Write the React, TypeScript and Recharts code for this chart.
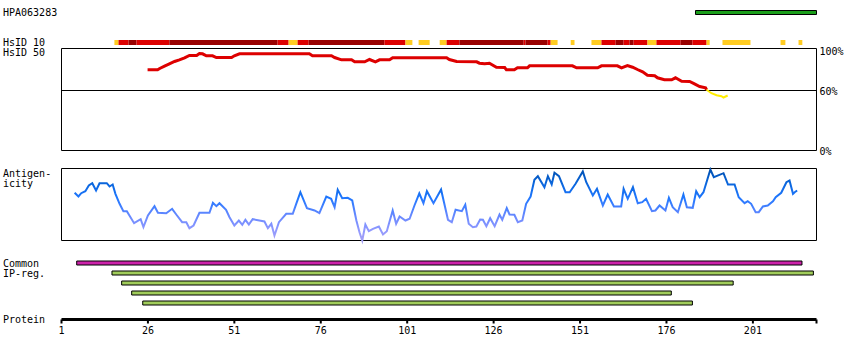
import React from "react";
import {
  LineChart,
  BarChart,
  Line,
  Bar,
  Cell,
  XAxis,
  YAxis,
  ReferenceArea,
  ReferenceLine,
} from "recharts";

// residue axis
const X_DOMAIN: [number, number] = [1, 219.4];
const proteinTicks = [1, 26, 51, 76, 101, 126, 151, 176, 201, 219.4];

// antigen (PrEST) position
const antigenRegion = [184.4, 219.4];

// HsID 10 identity blocks: [start, end, level]
const hsid10Segments: [number, number, string][] = [
  [16.3, 17.5, "low"], [17.5, 20.4, "mid"], [20.4, 22.7, "high"], [22.7, 32.2, "mid"],
  [32.2, 63.5, "high"], [63.5, 66.7, "mid"], [66.7, 69.3, "low"], [69.3, 72.5, "mid"],
  [72.5, 94.4, "high"], [94.4, 100.5, "mid"], [100.5, 102.5, "low"], [104.3, 107.5, "low"],
  [110.4, 112.4, "low"], [112.4, 116.1, "mid"], [116.1, 134.7, "high"], [134.7, 135.2, "mid"],
  [135.2, 141.6, "high"], [141.6, 142.5, "mid"], [142.5, 144.5, "low"], [148.3, 149.4, "low"],
  [154.3, 157.2, "low"], [157.2, 161.3, "mid"], [161.3, 163.6, "high"], [163.6, 165.3, "mid"],
  [165.3, 166.5, "high"], [166.5, 170.5, "mid"], [170.5, 173.1, "low"], [173.1, 180.1, "mid"],
  [180.1, 183.5, "high"], [183.5, 187.6, "mid"], [187.6, 188.5, "low"], [192.2, 200.3, "low"],
  [209.0, 210.4, "low"], [214.2, 215.3, "low"],
];
const levelColor: Record<string, string> = { low: "#ffcc22", mid: "#dd0000", high: "#990000" };

// HsID 50 sliding identity (%)
const hsid50Above = [
  [25.9, 80.7], [28.8, 80.7], [29.4, 82], [30.8, 84.3], [32.2, 86.7], [33.7, 89], [35.1, 90.7],
  [36.6, 92.7], [38.0, 95], [40.1, 95], [40.9, 97], [41.8, 96.7], [42.9, 94.7], [44.7, 94.7],
  [45.8, 93], [50.2, 93], [51.0, 94.7], [52.5, 96.7], [72.7, 96.7], [73.6, 94.7], [79.1, 94.7],
  [80.0, 93], [82.0, 90.7], [84.9, 90.7], [85.8, 88.7], [88.7, 88.7], [90.1, 91], [91.8, 88.7],
  [93.0, 90.7], [95.9, 90.7], [96.8, 92.7], [112.4, 92.7], [113.2, 91], [115.3, 89], [121.1, 88.7],
  [121.9, 87.3], [123.4, 86.7], [124.8, 87.3], [126.8, 83.3], [129.2, 83], [129.7, 80.7],
  [132.0, 80.7], [132.9, 82.7], [135.8, 82.7], [136.4, 84.7], [148.8, 84.7], [150.0, 82.7],
  [156.1, 82.7], [157.2, 84.7], [161.8, 84.7], [163.0, 82.7], [164.7, 85], [166.2, 83.3],
  [167.6, 81], [169.1, 78.7], [170.5, 75.3], [172.6, 74.7], [173.4, 72.7], [175.4, 70.7],
  [177.5, 70.7], [178.6, 72.7], [180.4, 69.3], [182.7, 69], [184.1, 66.7], [185.6, 64],
  [187.3, 62.7], [187.6, 60.7],
];
const hsid50Below = [
  [187.6, 60.7], [189.0, 57.3], [190.5, 55.3], [191.9, 54.3], [192.5, 53], [193.7, 55],
];
const HSID50_MAX = 102;

// antigenicity score (0 = panel floor)
const antigenicity = [
  [4.8, 47.7], [5.9, 44], [6.7, 47.3], [7.9, 49.3], [8.9, 55], [9.9, 57.3], [11.0, 50], [12.0, 57.3],
  [14.1, 57.3], [14.9, 54], [15.8, 56], [16.6, 46.7], [17.8, 36.7], [18.9, 29.3], [19.9, 29.3],
  [22.0, 17.3], [23.9, 21.3], [24.7, 13.3], [26.0, 25], [27.9, 34.3], [28.9, 27.7], [31.3, 27.3],
  [33.0, 31.7], [34.2, 26], [35.9, 18.3], [37.1, 18.3], [38.0, 12.3], [39.2, 15], [40.9, 27.7],
  [43.8, 27.7], [44.8, 37.7], [45.8, 34.3], [46.7, 37.3], [48.6, 30.7], [49.6, 23.3], [51.0, 15],
  [52.3, 20], [53.3, 15.7], [54.2, 20.7], [55.2, 16], [56.3, 21.3], [59.7, 19], [60.7, 12.3],
  [61.7, 16.7], [62.6, 5], [63.9, 18.3], [66.0, 26.7], [67.9, 26.7], [68.9, 36.7], [70.1, 48.3],
  [72.0, 32.3], [74.2, 30], [75.6, 27.3], [77.6, 44], [79.0, 41.7], [80.0, 33.3], [80.9, 50.7],
  [82.2, 42.3], [83.8, 42.7], [85.1, 40], [86.3, 20], [87.2, 8.3], [88.0, 0], [88.9, 16],
  [89.9, 9.3], [91.1, 11.7], [92.8, 14], [94.0, 6], [95.1, 9.3], [96.8, 30], [97.8, 16.7],
  [98.8, 24], [100.5, 20], [101.7, 21.7], [103.1, 35], [104.5, 47.2], [105.7, 37.3], [106.7, 49.3],
  [108.6, 37.3], [110.8, 51], [112.8, 20.7], [113.9, 18.3], [115.0, 30.7], [116.8, 29.3],
  [117.8, 35.7], [118.8, 16.7], [120.0, 13.3], [121.0, 14], [122.1, 21], [122.9, 20.7],
  [123.9, 14.3], [125.0, 22.3], [126.3, 14.3], [127.7, 26], [128.5, 20.7], [129.8, 32.3],
  [130.6, 26], [132.0, 25.7], [133.0, 18.3], [134.3, 20], [135.4, 36.7], [136.7, 44], [137.8, 60.7],
  [138.8, 64.3], [140.7, 53.3], [141.7, 64.3], [142.8, 56], [143.6, 67.7], [144.9, 64.3],
  [146.8, 48.3], [148.0, 48.3], [149.7, 56.7], [151.8, 69], [152.8, 58.3], [154.7, 45],
  [155.9, 51.7], [157.6, 35], [159.0, 46], [160.8, 34], [162.9, 34], [163.6, 51.7], [164.8, 41.7],
  [166.3, 53.3], [167.7, 37.3], [169.0, 38.3], [170.1, 41.7], [171.8, 29.3], [172.8, 30],
  [174.0, 35], [175.7, 30], [176.7, 42.7], [177.8, 33.3], [179.3, 28.3], [180.9, 46], [181.9, 33.3],
  [183.6, 32.7], [184.6, 49.3], [185.6, 43.3], [186.7, 48.3], [188.7, 71], [189.7, 63.3],
  [192.5, 67.3], [193.8, 56], [195.7, 56], [196.9, 43.3], [198.6, 37.3], [199.5, 39.3],
  [200.5, 36.7], [201.8, 28.3], [202.7, 28.3], [203.9, 34], [205.3, 35], [206.8, 39.3],
  [207.6, 43.3], [209.2, 47.7], [210.7, 58.3], [211.6, 60], [212.6, 46.7], [213.1, 48.3],
  [213.8, 50],
];
const ANT_MAX = 72;

// interpro regions
const ipRegions = [
  { name: "common", range: [5.4, 215.2], color: "#cc22aa" },
  { name: "ip1", range: [15.6, 218.5], color: "#a0cc5a" },
  { name: "ip2", range: [18.4, 195.3], color: "#a0cc5a" },
  { name: "ip3", range: [21.3, 177.4], color: "#a0cc5a" },
  { name: "ip4", range: [24.5, 183.5], color: "#a0cc5a" },
];

const FONT = "DejaVu Sans Mono";
const W = 850;
const SIDE = { left: 61.5, right: 33.5 };

const toPts = (arr: number[][]) => arr.map(([r, v]) => ({ r, v }));
// anchor rows so the hidden axes have something to work with
const anchors = X_DOMAIN.map((r) => ({ r, v: 0 }));

function Box({ top, height, children }: { top: number; height: number; children: React.ReactNode }) {
  return <div style={{ position: "absolute", left: 0, top, width: W, height }}>{children}</div>;
}

export default function App() {
  const labels = [
    { t: "HPA063283", y: 16 },
    { t: "HsID 10", y: 46 },
    { t: "HsID 50", y: 56 },
    { t: "Antigen-", y: 176.5 },
    { t: "icity", y: 187 },
    { t: "Common", y: 266.5 },
    { t: "IP-reg.", y: 276.5 },
    { t: "Protein", y: 323 },
  ];

  return (
    <div style={{ position: "absolute", left: 0, top: 0, width: W, height: 360, background: "#fff" }}>
      <svg style={{ position: "absolute", left: 0, top: 0 }} width={W} height={360}>
        {labels.map((l) => (
          <text key={l.t} x={3} y={l.y} fontFamily={FONT} fontSize={10} fill="#000">
            {l.t}
          </text>
        ))}
      </svg>

      {/* antigen bar */}
      <Box top={0} height={25}>
        <LineChart width={W} height={25} data={anchors} margin={{ top: 10.5, bottom: 10.5, ...SIDE }}>
          <XAxis type="number" dataKey="r" domain={X_DOMAIN} hide />
          <YAxis domain={[0, 1]} hide />
          <ReferenceArea x1={antigenRegion[0]} x2={antigenRegion[1]} y1={0} y2={1} fill="#1a9e1a" fillOpacity={1} stroke="#000" strokeWidth={1} ifOverflow="visible" />
          <Line dataKey="v" stroke="none" dot={false} isAnimationActive={false} />
        </LineChart>
      </Box>

      {/* HsID 10 */}
      <Box top={30} height={25}>
        <LineChart width={W} height={25} data={anchors} margin={{ top: 10, bottom: 10, ...SIDE }}>
          <XAxis type="number" dataKey="r" domain={X_DOMAIN} hide />
          <YAxis domain={[0, 1]} hide />
          {hsid10Segments.map(([a, b, lv], i) => (
            <ReferenceArea key={i} x1={a} x2={b} y1={0} y2={1} fill={levelColor[lv]} fillOpacity={1} stroke="none" ifOverflow="visible" />
          ))}
          <Line dataKey="v" stroke="none" dot={false} isAnimationActive={false} />
        </LineChart>
      </Box>

      {/* HsID 50 */}
      <Box top={0} height={160}>
        <LineChart width={W} height={160} data={anchors} margin={{ top: 48.5, bottom: 9.5, left: SIDE.left, right: 0 }}>
          <XAxis type="number" dataKey="r" domain={X_DOMAIN} hide allowDataOverflow />
          <YAxis
            orientation="right"
            width={SIDE.right}
            domain={[0, HSID50_MAX]}
            ticks={[0, 60, 100]}
            tickFormatter={(v) => `${v}%`}
            axisLine={false}
            tickLine={false}
            tickSize={0}
            tickMargin={3}
            tick={{ fontFamily: FONT, fontSize: 10, fill: "#000", dy: 1 }}
          />
          <ReferenceArea x1={X_DOMAIN[0]} x2={X_DOMAIN[1]} y1={0} y2={HSID50_MAX} fill="none" stroke="#000" strokeWidth={1} />
          <ReferenceLine y={60} stroke="#000" strokeWidth={1} />
          <Line data={toPts(hsid50Above)} dataKey="v" type="linear" stroke="#dd0000" strokeWidth={3} dot={false} isAnimationActive={false} />
          <Line data={toPts(hsid50Below)} dataKey="v" type="linear" stroke="#ffee00" strokeWidth={2} dot={false} isAnimationActive={false} />
        </LineChart>
      </Box>

      {/* Antigenicity */}
      <Box top={160} height={90}>
        <LineChart width={W} height={90} data={toPts(antigenicity)} margin={{ top: 8.5, bottom: 9.5, ...SIDE }}>
          <defs>
            <linearGradient id="antGrad" x1="0" y1="0" x2="0" y2="1">
              <stop offset="0%" stopColor="#0050b0" />
              <stop offset="20%" stopColor="#0a66dd" />
              <stop offset="40%" stopColor="#1f77ff" />
              <stop offset="65%" stopColor="#6688ff" />
              <stop offset="85%" stopColor="#9099ff" />
              <stop offset="100%" stopColor="#a39ff5" />
            </linearGradient>
          </defs>
          <XAxis type="number" dataKey="r" domain={X_DOMAIN} hide />
          <YAxis domain={[0, ANT_MAX]} hide />
          <ReferenceArea x1={X_DOMAIN[0]} x2={X_DOMAIN[1]} y1={0} y2={ANT_MAX} fill="none" stroke="#000" strokeWidth={1} />
          <Line dataKey="v" type="linear" stroke="url(#antGrad)" strokeWidth={2} dot={false} isAnimationActive={false} />
        </LineChart>
      </Box>

      {/* IP regions */}
      <Box top={257.5} height={50}>
        <BarChart width={W} height={50} layout="vertical" data={ipRegions} margin={{ top: 0, bottom: 0, ...SIDE }}>
          <XAxis type="number" domain={X_DOMAIN} hide />
          <YAxis type="category" dataKey="name" hide />
          <Bar dataKey="range" barSize={4} stroke="#000" strokeWidth={1} isAnimationActive={false}>
            {ipRegions.map((d) => (
              <Cell key={d.name} fill={d.color} />
            ))}
          </Bar>
        </BarChart>
      </Box>

      {/* protein axis */}
      <Box top={280} height={60}>
        <LineChart width={W} height={60} data={proteinTicks.map((r) => ({ r, v: 0 }))} margin={{ top: 0, bottom: 0, ...SIDE }}>
          <XAxis
            type="number"
            dataKey="r"
            domain={X_DOMAIN}
            ticks={proteinTicks}
            interval={0}
            height={20.5}
            tickFormatter={(v) => (v > 210 ? "" : String(v))}
            axisLine={{ stroke: "#000", strokeWidth: 3 }}
            tickLine={{ stroke: "#000", strokeWidth: 2 }}
            tickSize={4}
            tickMargin={3.5}
            tick={{ fontFamily: FONT, fontSize: 10, fill: "#000" }}
          />
          <YAxis domain={[0, 1]} hide />
        </LineChart>
      </Box>
    </div>
  );
}
